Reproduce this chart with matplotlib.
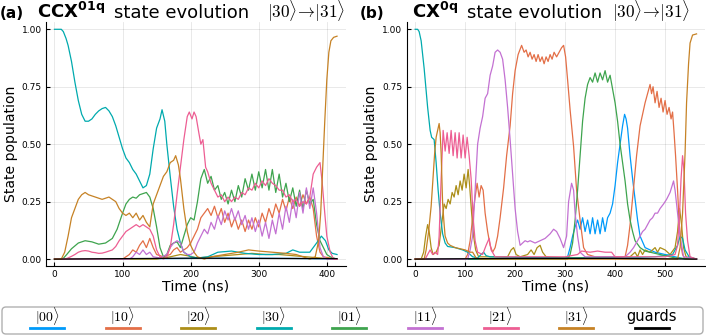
import matplotlib.pyplot as plt
from matplotlib.patches import FancyBboxPatch
from matplotlib.lines import Line2D
from matplotlib.transforms import IdentityTransform

plt.rcParams['font.family'] = ['DejaVu Sans']

# state order follows the legend
states = ['00', '10', '20', '30', '01', '11', '21', '31', 'guards']
colors = ['#009AFA', '#E36F47', '#AC8E18', '#00AAAE', '#3EA44E',
          '#C371D2', '#ED5E93', '#C68225', '#000000']

# ---- panel (a) : CCX^01q, (time ns, population) ----
a_00 = [(0, 0), (150, 0.002), (250, 0.004), (350, 0.003), (415, 0.001)]
a_10 = [(0, 0), (100, 0), (110, 0.02), (115, 0.04), (120, 0.03), (125, 0.06), (130, 0.08),
        (135, 0.05), (140, 0.09), (145, 0.05), (150, 0.02), (160, 0.01), (170, 0.02),
        (175, 0.04), (180, 0.05), (185, 0.03), (190, 0.04), (195, 0.05), (200, 0.07),
        (205, 0.1), (210, 0.13), (215, 0.18), (220, 0.2), (225, 0.22), (230, 0.19),
        (235, 0.23), (240, 0.18), (245, 0.22), (250, 0.16), (255, 0.2), (260, 0.14),
        (265, 0.18), (270, 0.13), (275, 0.17), (280, 0.12), (285, 0.17), (290, 0.13),
        (295, 0.18), (300, 0.14), (305, 0.2), (310, 0.16), (315, 0.22), (320, 0.18),
        (325, 0.24), (330, 0.2), (335, 0.26), (340, 0.21), (345, 0.27), (350, 0.22),
        (355, 0.27), (360, 0.23), (365, 0.28), (370, 0.24), (375, 0.27), (380, 0.22),
        (385, 0.1), (390, 0.03), (395, 0.01), (415, 0)]
a_20 = [(0, 0), (150, 0), (170, 0.01), (185, 0.02), (195, 0.015), (210, 0.005), (230, 0.01),
        (250, 0.015), (270, 0.02), (290, 0.025), (310, 0.02), (330, 0.02), (350, 0.015),
        (370, 0.01), (390, 0.005), (415, 0)]
a_30 = [(0, 1), (10, 1), (13, 0.99), (17, 0.96), (20, 0.93), (25, 0.86), (30, 0.77), (35, 0.69),
        (40, 0.63), (45, 0.6), (50, 0.6), (55, 0.61), (60, 0.63), (65, 0.645), (70, 0.655),
        (75, 0.66), (80, 0.645), (85, 0.62), (90, 0.58), (95, 0.53), (100, 0.48), (105, 0.44),
        (110, 0.42), (115, 0.39), (120, 0.37), (125, 0.34), (130, 0.31), (135, 0.32),
        (140, 0.37), (145, 0.48), (150, 0.57), (155, 0.61), (158, 0.65), (162, 0.6),
        (165, 0.5), (170, 0.36), (175, 0.23), (180, 0.13), (185, 0.07), (190, 0.03),
        (200, 0.01), (210, 0.005), (225, 0.01), (240, 0.03), (260, 0.035), (280, 0.025),
        (300, 0.02), (320, 0.02), (340, 0.025), (350, 0.04), (360, 0.03), (375, 0.03),
        (385, 0.07), (392, 0.1), (398, 0.08), (403, 0.04), (408, 0.025), (415, 0.02)]
a_01 = [(0, 0), (12, 0), (18, 0.02), (25, 0.045), (35, 0.07), (45, 0.08), (55, 0.075),
        (65, 0.065), (75, 0.07), (85, 0.09), (92, 0.13), (100, 0.2), (105, 0.24), (110, 0.26),
        (115, 0.27), (120, 0.265), (125, 0.28), (130, 0.285), (135, 0.29), (140, 0.27),
        (145, 0.22), (150, 0.14), (155, 0.05), (160, 0.01), (165, 0.02), (170, 0.06),
        (175, 0.07), (180, 0.075), (185, 0.05), (190, 0.1), (195, 0.15), (200, 0.18),
        (205, 0.17), (210, 0.25), (215, 0.35), (220, 0.39), (225, 0.33), (230, 0.36),
        (235, 0.3), (240, 0.32), (245, 0.26), (250, 0.29), (255, 0.24), (260, 0.3),
        (265, 0.25), (270, 0.32), (275, 0.27), (280, 0.35), (285, 0.3), (290, 0.37),
        (295, 0.3), (300, 0.38), (305, 0.31), (310, 0.39), (315, 0.3), (320, 0.39),
        (325, 0.29), (330, 0.37), (335, 0.27), (340, 0.33), (345, 0.25), (350, 0.31),
        (355, 0.23), (360, 0.3), (365, 0.22), (370, 0.3), (375, 0.24), (380, 0.26),
        (385, 0.15), (390, 0.08), (395, 0.05), (400, 0.02), (405, 0.01), (415, 0)]
a_11 = [(0, 0), (110, 0), (115, 0.01), (120, 0.03), (125, 0.02), (130, 0.04), (135, 0.02),
        (140, 0.03), (145, 0.01), (155, 0.005), (165, 0.02), (170, 0.05), (175, 0.07),
        (180, 0.08), (185, 0.07), (190, 0.03), (195, 0.02), (200, 0.02), (205, 0.03),
        (210, 0.07), (215, 0.1), (220, 0.13), (225, 0.11), (230, 0.16), (235, 0.13),
        (240, 0.19), (245, 0.15), (250, 0.21), (255, 0.17), (260, 0.22), (265, 0.17),
        (270, 0.21), (275, 0.15), (280, 0.19), (285, 0.13), (290, 0.18), (295, 0.12),
        (300, 0.17), (305, 0.1), (310, 0.16), (315, 0.09), (320, 0.17), (325, 0.11),
        (330, 0.2), (335, 0.13), (340, 0.23), (345, 0.16), (350, 0.26), (355, 0.18),
        (360, 0.29), (365, 0.2), (370, 0.31), (375, 0.22), (380, 0.31), (385, 0.2),
        (390, 0.05), (395, 0.01), (400, 0), (415, 0)]
a_21 = [(0, 0), (15, 0), (20, 0.005), (25, 0.012), (30, 0.02), (35, 0.03), (40, 0.035),
        (45, 0.037), (50, 0.035), (55, 0.03), (60, 0.028), (65, 0.025), (70, 0.026),
        (75, 0.03), (80, 0.035), (85, 0.04), (90, 0.055), (95, 0.08), (100, 0.1), (105, 0.12),
        (110, 0.13), (115, 0.14), (120, 0.15), (125, 0.14), (130, 0.15), (135, 0.14),
        (140, 0.13), (145, 0.1), (150, 0.04), (155, 0.01), (160, 0), (165, 0.01), (170, 0.05),
        (175, 0.15), (180, 0.28), (185, 0.4), (190, 0.52), (195, 0.62), (198, 0.64),
        (202, 0.61), (205, 0.64), (208, 0.62), (212, 0.55), (215, 0.5), (218, 0.52),
        (222, 0.4), (225, 0.38), (230, 0.33), (235, 0.3), (240, 0.27), (245, 0.28),
        (250, 0.25), (255, 0.27), (260, 0.25), (265, 0.27), (270, 0.26), (275, 0.29),
        (280, 0.28), (285, 0.31), (290, 0.3), (295, 0.33), (300, 0.31), (305, 0.34),
        (310, 0.32), (315, 0.35), (320, 0.33), (325, 0.32), (330, 0.3), (335, 0.3),
        (340, 0.27), (345, 0.28), (350, 0.25), (355, 0.26), (360, 0.23), (365, 0.25),
        (370, 0.24), (375, 0.27), (380, 0.37), (385, 0.4), (390, 0.42), (393, 0.34),
        (397, 0.2), (400, 0.1), (405, 0.03), (410, 0), (415, 0)]
a_31 = [(0, 0), (10, 0), (15, 0.03), (20, 0.1), (25, 0.18), (30, 0.22), (35, 0.26), (40, 0.28),
        (45, 0.29), (50, 0.28), (55, 0.275), (60, 0.27), (65, 0.265), (70, 0.26), (75, 0.265),
        (80, 0.27), (85, 0.26), (90, 0.25), (95, 0.22), (100, 0.2), (105, 0.19), (110, 0.2),
        (115, 0.18), (120, 0.2), (125, 0.17), (130, 0.19), (135, 0.16), (140, 0.14),
        (145, 0.24), (150, 0.28), (155, 0.32), (160, 0.36), (165, 0.38), (170, 0.42),
        (175, 0.43), (178, 0.45), (182, 0.41), (185, 0.35), (190, 0.22), (195, 0.12),
        (200, 0.06), (205, 0.03), (210, 0.01), (220, 0), (230, 0.01), (250, 0.02),
        (270, 0.03), (285, 0.04), (300, 0.035), (320, 0.03), (340, 0.025), (355, 0.02),
        (365, 0.01), (375, 0), (383, 0.01), (388, 0.08), (391, 0.2), (394, 0.4), (397, 0.6),
        (400, 0.78), (403, 0.9), (406, 0.95), (410, 0.965), (415, 0.97)]
a_guards = [(0, 0), (100, 0.002), (200, 0.004), (300, 0.003), (415, 0.002)]

# ---- panel (b) : CX^0q ----
b_00 = [(0, 0), (300, 0), (305, 0.01), (310, 0.05), (315, 0.1), (320, 0.14), (325, 0.17),
        (330, 0.13), (335, 0.18), (340, 0.12), (345, 0.17), (350, 0.11), (355, 0.18),
        (360, 0.11), (365, 0.17), (370, 0.11), (375, 0.18), (380, 0.12), (385, 0.18),
        (390, 0.2), (395, 0.24), (400, 0.32), (405, 0.42), (410, 0.5), (415, 0.58),
        (419, 0.63), (422, 0.61), (425, 0.57), (430, 0.45), (435, 0.35), (440, 0.26),
        (445, 0.17), (450, 0.1), (460, 0.05), (470, 0.04), (480, 0.03), (500, 0.02),
        (520, 0.01), (540, 0), (563, 0)]
b_10 = [(0, 0), (100, 0), (105, 0.02), (110, 0.08), (115, 0.18), (120, 0.27), (124, 0.33),
        (128, 0.27), (132, 0.32), (136, 0.3), (140, 0.2), (145, 0.12), (150, 0.06),
        (155, 0.03), (160, 0.05), (165, 0.1), (170, 0.18), (177, 0.31), (183, 0.45),
        (190, 0.58), (195, 0.72), (200, 0.82), (206, 0.89), (213, 0.93), (218, 0.9),
        (222, 0.91), (226, 0.88), (230, 0.9), (234, 0.87), (238, 0.89), (242, 0.86),
        (246, 0.89), (250, 0.86), (254, 0.88), (258, 0.85), (262, 0.88), (266, 0.86),
        (270, 0.89), (274, 0.87), (278, 0.9), (283, 0.88), (288, 0.9), (293, 0.92),
        (297, 0.93), (301, 0.88), (305, 0.78), (310, 0.65), (317, 0.49), (323, 0.3),
        (330, 0.17), (337, 0.05), (345, 0.02), (360, 0.01), (420, 0.01), (425, 0.06),
        (430, 0.15), (437, 0.31), (443, 0.45), (450, 0.58), (455, 0.63), (460, 0.68),
        (465, 0.72), (470, 0.76), (473, 0.72), (476, 0.75), (480, 0.68), (484, 0.73),
        (488, 0.66), (492, 0.7), (496, 0.64), (500, 0.69), (504, 0.63), (508, 0.66),
        (512, 0.61), (515, 0.64), (518, 0.55), (521, 0.45), (525, 0.3), (528, 0.17),
        (531, 0.07), (535, 0.02), (540, 0), (563, 0)]
b_20 = [(0, 0), (12, 0), (17, 0.03), (21, 0.1), (25, 0.15), (28, 0.12), (32, 0.05), (36, 0.02),
        (42, 0.03), (48, 0.06), (53, 0.15), (58, 0.24), (62, 0.22), (66, 0.26), (70, 0.24),
        (74, 0.29), (78, 0.27), (82, 0.32), (86, 0.28), (90, 0.34), (94, 0.3), (98, 0.37),
        (102, 0.31), (106, 0.39), (109, 0.32), (113, 0.2), (117, 0.1), (121, 0.04),
        (127, 0.01), (185, 0.01), (192, 0.04), (197, 0.05), (202, 0.02), (210, 0.01),
        (225, 0.02), (232, 0.04), (238, 0.02), (244, 0.05), (250, 0.06), (255, 0.03),
        (262, 0.01), (300, 0.005), (430, 0.01), (440, 0.03), (445, 0.01), (450, 0.04),
        (455, 0.02), (460, 0.04), (470, 0.03), (480, 0.05), (485, 0.03), (490, 0.05),
        (500, 0.04), (510, 0.02), (520, 0.05), (525, 0.12), (529, 0.22), (533, 0.15),
        (537, 0.05), (542, 0.01), (563, 0)]
b_30 = [(0, 1), (5, 1), (8, 0.99), (12, 0.95), (18, 0.83), (25, 0.66), (30, 0.56), (33, 0.53),
        (38, 0.52), (42, 0.42), (46, 0.3), (50, 0.2), (55, 0.11), (60, 0.07), (65, 0.055),
        (80, 0.05), (95, 0.04), (105, 0.03), (115, 0.01), (125, 0.005), (132, 0.02),
        (137, 0.03), (142, 0.015), (150, 0.01), (300, 0.005), (420, 0.005), (480, 0.01),
        (515, 0.02), (525, 0.06), (530, 0.1), (535, 0.09), (540, 0.04), (548, 0.01), (563, 0)]
b_01 = [(0, 0), (305, 0), (310, 0.02), (315, 0.07), (320, 0.17), (325, 0.3), (330, 0.45),
        (335, 0.6), (340, 0.7), (345, 0.76), (350, 0.79), (355, 0.77), (360, 0.81),
        (365, 0.77), (370, 0.81), (375, 0.78), (380, 0.82), (385, 0.77), (390, 0.8),
        (395, 0.74), (400, 0.68), (405, 0.6), (410, 0.5), (415, 0.42), (420, 0.34),
        (425, 0.24), (430, 0.17), (435, 0.12), (440, 0.08), (450, 0.05), (460, 0.035),
        (480, 0.025), (500, 0.015), (520, 0.005), (563, 0)]
b_11 = [(0, 0), (105, 0), (110, 0.04), (115, 0.1), (120, 0.3), (125, 0.5), (130, 0.57),
        (135, 0.62), (140, 0.7), (145, 0.72), (150, 0.8), (155, 0.84), (160, 0.9),
        (165, 0.91), (170, 0.9), (175, 0.87), (180, 0.78), (185, 0.66), (190, 0.52),
        (195, 0.37), (200, 0.22), (205, 0.12), (210, 0.06), (215, 0.07), (220, 0.08),
        (225, 0.075), (230, 0.08), (240, 0.07), (250, 0.08), (260, 0.09), (270, 0.11),
        (277, 0.13), (283, 0.12), (290, 0.09), (297, 0.05), (303, 0.1), (307, 0.25),
        (313, 0.33), (317, 0.3), (320, 0.2), (325, 0.1), (330, 0.03), (340, 0.01),
        (420, 0.01), (430, 0.03), (437, 0.05), (445, 0.08), (450, 0.1), (455, 0.12),
        (460, 0.13), (465, 0.15), (470, 0.17), (475, 0.18), (480, 0.2), (485, 0.2),
        (490, 0.22), (497, 0.24), (503, 0.26), (510, 0.29), (517, 0.34), (520, 0.3),
        (525, 0.2), (530, 0.1), (537, 0.01), (563, 0)]
b_21 = [(0, 0), (20, 0), (25, 0.02), (30, 0.04), (35, 0.02), (40, 0.03), (45, 0.02), (48, 0.1),
        (52, 0.35), (56, 0.56), (60, 0.47), (64, 0.55), (68, 0.46), (72, 0.56), (76, 0.45),
        (80, 0.55), (84, 0.44), (88, 0.55), (92, 0.44), (96, 0.54), (100, 0.44), (104, 0.53),
        (108, 0.45), (112, 0.35), (116, 0.18), (120, 0.08), (125, 0.03), (135, 0.02),
        (142, 0.06), (148, 0.09), (152, 0.04), (160, 0.01), (200, 0.01), (300, 0.01),
        (325, 0.02), (333, 0.035), (350, 0.03), (365, 0.035), (380, 0.03), (393, 0.03),
        (400, 0.01), (500, 0.01), (520, 0.02), (525, 0.06), (529, 0.2), (532, 0.35),
        (535, 0.45), (538, 0.38), (541, 0.2), (545, 0.08), (550, 0.01), (563, 0)]
b_31 = [(0, 0), (18, 0), (22, 0.04), (27, 0.12), (32, 0.23), (36, 0.36), (39, 0.46), (42, 0.53),
        (45, 0.56), (48, 0.59), (50, 0.55), (52, 0.46), (55, 0.24), (58, 0.15), (60, 0.1),
        (65, 0.07), (70, 0.06), (80, 0.05), (90, 0.045), (100, 0.04), (110, 0.03),
        (115, 0.03), (122, 0.005), (130, 0), (525, 0), (530, 0.05), (535, 0.2), (540, 0.46),
        (543, 0.68), (547, 0.85), (550, 0.94), (555, 0.975), (563, 0.98)]
b_guards = [(0, 0), (200, 0.003), (400, 0.003), (563, 0)]

panel_a = [a_00, a_10, a_20, a_30, a_01, a_11, a_21, a_31, a_guards]
panel_b = [b_00, b_10, b_20, b_30, b_01, b_11, b_21, b_31, b_guards]

fig = plt.figure(figsize=(7.06, 3.36), dpi=100)
W, H = 706, 336
bot, top = 266, 22.4
ax_a = fig.add_axes([46 / W, 1 - bot / H, (345.5 - 46) / W, (bot - top) / H])
ax_b = fig.add_axes([406.7 / W, 1 - bot / H, (705 - 406.7) / W, (bot - top) / H])


def draw_panel(ax, series, tmax, xticks):
    for s, c in zip(series, colors):
        t = [p[0] for p in s]
        v = [p[1] for p in s]
        ax.plot(t, v, color=c, lw=0.9)
    ax.set_xlim(-0.03 * tmax, 1.03 * tmax)
    ax.set_ylim(-0.03, 1.03)
    ax.set_xticks(xticks)
    ax.set_yticks([0, 0.25, 0.5, 0.75, 1.0])
    ax.set_yticklabels(['0.00', '0.25', '0.50', '0.75', '1.00'])
    ax.grid(True, color='k', alpha=0.1, lw=0.6)
    ax.spines[['top', 'right']].set_visible(False)
    ax.tick_params(direction='in', length=3, width=0.8, labelsize=6.5, pad=3)
    ax.set_xlabel('Time (ns)', fontsize=10.3, labelpad=0.5)
    ax.set_ylabel('State population', fontsize=10.1, labelpad=3)


draw_panel(ax_a, panel_a, 415, [0, 100, 200, 300, 400])
draw_panel(ax_b, panel_b, 563, [0, 100, 200, 300, 400, 500])

# titles
ty = 1 - 17.5 / H
ky = 1 - 18.5 / H
ket = r'$|30\rangle\!\rightarrow\!|31\rangle$'
fig.text(0 / W, ty, '(a)', fontsize=11, fontweight='bold', va='baseline')
fig.text(37 / W, ty, r'$\mathbf{CCX^{01q}}$', fontsize=13, math_fontfamily='dejavusans', va='baseline')
fig.text(114 / W, ty, 'state evolution', fontsize=13, va='baseline')
fig.text(267 / W, ky, ket, fontsize=12.3, math_fontfamily='cm', va='baseline')
fig.text(360 / W, ty, '(b)', fontsize=11, fontweight='bold', va='baseline')
fig.text(412 / W, ty, r'$\mathbf{CX^{0q}}$', fontsize=13, math_fontfamily='dejavusans', va='baseline')
fig.text(467 / W, ty, 'state evolution', fontsize=13, va='baseline')
fig.text(612 / W, ky, ket, fontsize=12.3, math_fontfamily='cm', va='baseline')

# legend strip (pixel coordinates)
pix = IdentityTransform()
box = FancyBboxPatch((2, 2), 701, 27, boxstyle='round,pad=0,rounding_size=4',
                     transform=pix, fc='white', ec='#b0b0b0', lw=1)
fig.patches.append(box)
for i, (s, c) in enumerate(zip(states, colors)):
    cx = 47 + 75.6 * i
    if s == 'guards':
        fig.text(cx, 20, 'guards', transform=pix, ha='center', va='center', fontsize=10.5)
    else:
        fig.text(cx, 20, r'$|%s\rangle$' % s, transform=pix, ha='center', va='center',
                 fontsize=10, math_fontfamily='cm')
    fig.lines.append(Line2D([cx - 17, cx + 17], [8, 8], transform=pix, color=c, lw=2))

fig.savefig('out.png', dpi=100)
